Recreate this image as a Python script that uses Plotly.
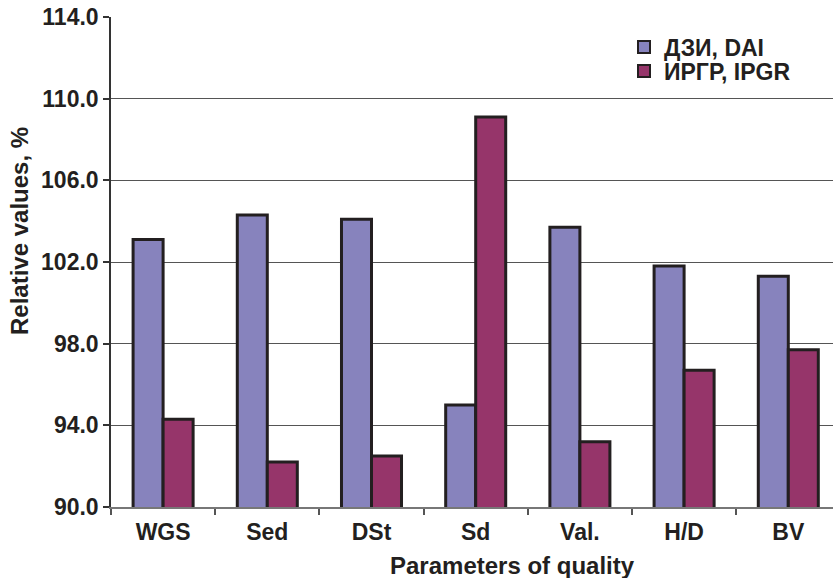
import plotly.graph_objects as go

categories = ["WGS", "Sed", "DSt", "Sd", "Val.", "H/D", "BV"]
dai_values = [103.1, 104.3, 104.1, 95.0, 103.7, 101.8, 101.3]
ipgr_values = [94.3, 92.2, 92.5, 109.1, 93.2, 96.7, 97.7]
series_names = ["ДЗИ, DAI", "ИРГР, IPGR"]
y_ticks = [90, 94, 98, 102, 106, 110, 114]
x_title = "Parameters of quality"
y_title = "Relative values, %"

FONT = "Liberation Sans, Arial, sans-serif"
TXT = "#231F20"
OUTLINE = "#231F20"

fig = go.Figure()
fig.add_trace(go.Bar(
    x=categories, y=dai_values, name=series_names[0], legend="legend",
    marker=dict(color="#8783BD", line=dict(color=OUTLINE, width=3)),
))
fig.add_trace(go.Bar(
    x=categories, y=ipgr_values, name=series_names[1], legend="legend2",
    marker=dict(color="#96356A", line=dict(color=OUTLINE, width=3)),
))

W, H = 833, 578
L, R, T, B = 111, 0, 17, 71
plot_w = W - L - R
plot_h = H - T - B
cat_px = 104.2

def px_x(x):
    return (x - L) / plot_w

def px_y(y):
    return (H - B - y) / plot_h

legend_font = dict(family=FONT, size=23, color=TXT, weight="bold")
legend_common = dict(xanchor="left", yanchor="middle", bgcolor="rgba(0,0,0,0)",
                     borderwidth=0, font=legend_font, itemsizing="constant")

fig.update_layout(
    width=W, height=H,
    margin=dict(l=L, r=R, t=T, b=B, autoexpand=False),
    paper_bgcolor="white", plot_bgcolor="white",
    barmode="group", bargap=0.424, bargroupgap=0,
    font=dict(family=FONT, color=TXT, size=23),
    showlegend=True,
    legend=dict(x=px_x(624), y=px_y(47), **legend_common),
    legend2=dict(x=px_x(624), y=px_y(71), **legend_common),
    xaxis=dict(
        range=[-0.5, -0.5 + plot_w / cat_px],
        tickson="boundaries", ticks="outside", ticklen=6, tickcolor="#555",
        tickwidth=1.5,
        showline=True, linecolor="#777", linewidth=1.5,
        showgrid=False, automargin=False, ticklabelstandoff=4,
        tickfont=dict(family=FONT, size=23, color=TXT, weight="bold"),
    ),
    yaxis=dict(
        range=[90, 114], tickvals=y_ticks, tickformat=".1f",
        ticks="outside", ticklen=6, tickcolor="#333", tickwidth=1.5,
        showline=True, linecolor="#333", linewidth=1.5,
        showgrid=True, gridcolor="#555", gridwidth=1.2,
        zeroline=False, automargin=False,
        tickfont=dict(family=FONT, size=23, color=TXT, weight="bold"),
    ),
    annotations=[
        dict(text=x_title, xref="paper", yref="paper",
             x=px_x(512), y=px_y(565), xanchor="center", yanchor="middle",
             showarrow=False,
             font=dict(family=FONT, size=24, color=TXT, weight="bold")),
        dict(text=y_title, xref="paper", yref="paper", textangle=-90,
             x=px_x(19), y=px_y(231), xanchor="center", yanchor="middle",
             showarrow=False,
             font=dict(family=FONT, size=24, color=TXT, weight="bold")),
    ],
)

fig.write_html(
    "out.html",
    config={"displayModeBar": False},
    post_script="document.body.style.margin='0';document.body.style.overflow='hidden';",
)
